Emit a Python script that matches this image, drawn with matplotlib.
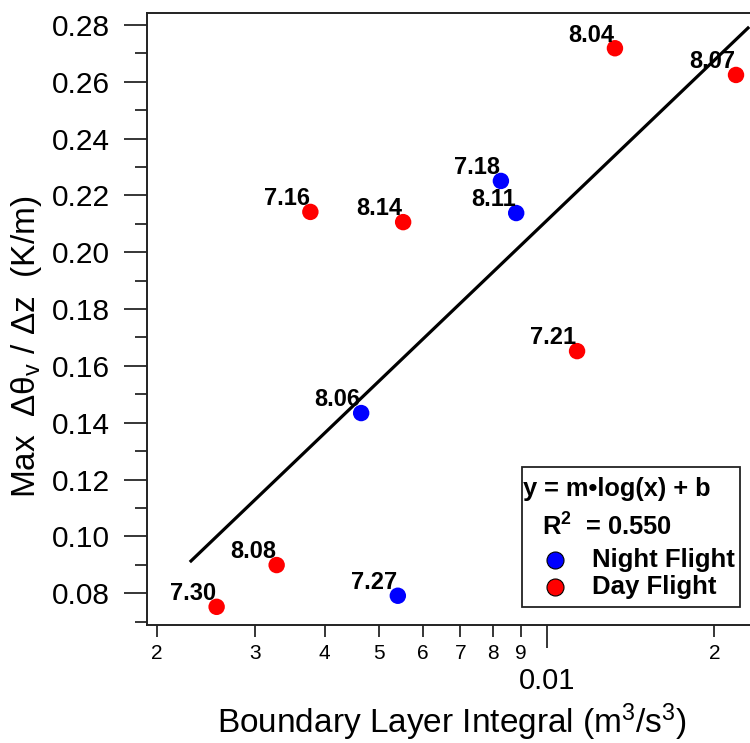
import matplotlib
matplotlib.use("Agg")
import matplotlib.pyplot as plt
from matplotlib.ticker import FixedLocator, FixedFormatter
from matplotlib.patches import Rectangle
import numpy as np

plt.rcParams['font.family'] = ['Liberation Sans', 'DejaVu Sans']
plt.rcParams['mathtext.fontset'] = 'custom'
plt.rcParams['mathtext.rm'] = 'Liberation Sans'
plt.rcParams['mathtext.it'] = 'Liberation Sans:italic'
plt.rcParams['mathtext.bf'] = 'Liberation Sans:bold'

# ---- data ----
night_labels = ["7.18", "8.11", "8.06", "7.27"]
night_x = [0.00828, 0.00882, 0.00465, 0.00541]
night_y = [0.2251, 0.2138, 0.1434, 0.0791]

day_labels = ["8.04", "8.07", "7.16", "8.14", "7.21", "8.08", "7.30"]
day_x = [0.01326, 0.02186, 0.00377, 0.00553, 0.01134, 0.00328, 0.00256]
day_y = [0.2718, 0.2624, 0.2142, 0.2106, 0.1652, 0.0899, 0.0752]

fit_m = 0.1878
fit_b = 0.5867
fit_xrange = [0.002303, 0.02297]
r_squared = 0.550

x_minor_ticks = [0.002, 0.003, 0.004, 0.005, 0.006, 0.007, 0.008, 0.009, 0.02]
x_minor_labels = ["2", "3", "4", "5", "6", "7", "8", "9", "2"]
x_major_ticks = [0.01]
x_major_labels = ["0.01"]
y_major_ticks = [0.08, 0.10, 0.12, 0.14, 0.16, 0.18, 0.20, 0.22, 0.24, 0.26, 0.28]
y_minor_ticks = [0.07, 0.09, 0.11, 0.13, 0.15, 0.17, 0.19, 0.21, 0.23, 0.25, 0.27]

RED = "#ff0000"
BLUE = "#0000ff"

fig = plt.figure(figsize=(7.5, 7.43), dpi=100)
ax = fig.add_axes([0.1956, 0.1588, 0.8044, 0.8233])

ax.set_xscale('log')
ax.set_xlim(0.001918, 0.02316)
ax.set_ylim(0.0688, 0.2841)

# fit line
fx = np.logspace(np.log10(fit_xrange[0]), np.log10(fit_xrange[1]), 50)
ax.plot(fx, fit_m * np.log10(fx) + fit_b, color='black', lw=2.3, zorder=2)

# points
ax.scatter(night_x, night_y, s=140, color=BLUE, edgecolors='none', zorder=3)
ax.scatter(day_x, day_y, s=140, color=RED, edgecolors='none', zorder=3)

for xs, ys, labs in [(night_x, night_y, night_labels), (day_x, day_y, day_labels)]:
    for x, y, t in zip(xs, ys, labs):
        ax.annotate(t, (x, y), xytext=(-0.5, 9.5), textcoords='offset points',
                    ha='right', va='center', fontsize=17, fontweight='bold', zorder=4)

# axes styling
for s in ['left', 'bottom', 'top']:
    ax.spines[s].set_linewidth(1.4)
    ax.spines[s].set_color('#222222')
ax.spines['right'].set_visible(False)

ax.xaxis.set_major_locator(FixedLocator(x_major_ticks))
ax.xaxis.set_major_formatter(FixedFormatter(x_major_labels))
ax.xaxis.set_minor_locator(FixedLocator(x_minor_ticks))
ax.xaxis.set_minor_formatter(FixedFormatter(x_minor_labels))
ax.tick_params(axis='x', which='major', direction='out', length=16.5, width=1.1,
               labelsize=21, pad=14, top=False)
ax.tick_params(axis='x', which='minor', direction='out', length=8.6, width=1.1,
               labelsize=15, pad=5, top=False)

ax.yaxis.set_major_locator(FixedLocator(y_major_ticks))
ax.yaxis.set_minor_locator(FixedLocator(y_minor_ticks))
ax.set_yticklabels([f"{v:.2f}" for v in y_major_ticks])
ax.tick_params(axis='y', which='major', direction='out', length=16.5, width=1.1,
               labelsize=21.5, pad=10, right=False)
ax.tick_params(axis='y', which='minor', direction='out', length=8.6, width=1.1,
               right=False)

fig.text(0.602, 1 - 733 / 743, r"Boundary Layer Integral (m$^3$/s$^3$)",
         fontsize=24, ha='center', va='baseline')
fig.text(27 / 750, 1 - 347 / 743, r"Max  Δθ$_\mathrm{v}$ / Δz  (K/m)",
         fontsize=24, ha='center', va='center', rotation=90)

# legend box (axes-fraction coords)
def fx_(px):
    return (px - 146.7) / (750 - 146.7)

def fy_(py):
    return (625 - py) / (625 - 13.3)

ax.add_patch(Rectangle((fx_(521.7), fy_(606.5)), fx_(740) - fx_(521.7),
                       fy_(466.7) - fy_(606.5), transform=ax.transAxes,
                       facecolor='white', edgecolor='#222222', lw=1.3, zorder=5))
ax.text(fx_(523), fy_(489), "y = m•log(x) + b", transform=ax.transAxes,
        fontsize=18.3, fontweight='bold', ha='left', va='center', zorder=6)
ax.text(fx_(541.5), fy_(527), r"R$^{\mathbf{2}}$  = " + f"{r_squared:.3f}",
        transform=ax.transAxes, fontsize=18.3, fontweight='bold',
        ha='left', va='center', zorder=6)
ax.scatter([fx_(555)], [fy_(560)], s=150, color=BLUE, edgecolors='black',
           linewidths=0.8, transform=ax.transAxes, zorder=6, clip_on=False)
ax.scatter([fx_(555)], [fy_(587)], s=150, color=RED, edgecolors='black',
           linewidths=0.8, transform=ax.transAxes, zorder=6, clip_on=False)
ax.text(fx_(591.5), fy_(560), "Night Flight", transform=ax.transAxes,
        fontsize=18.5, fontweight='bold', ha='left', va='center', zorder=6)
ax.text(fx_(591.5), fy_(587), "Day Flight", transform=ax.transAxes,
        fontsize=18.5, fontweight='bold', ha='left', va='center', zorder=6)

fig.savefig("out.png", dpi=100)
